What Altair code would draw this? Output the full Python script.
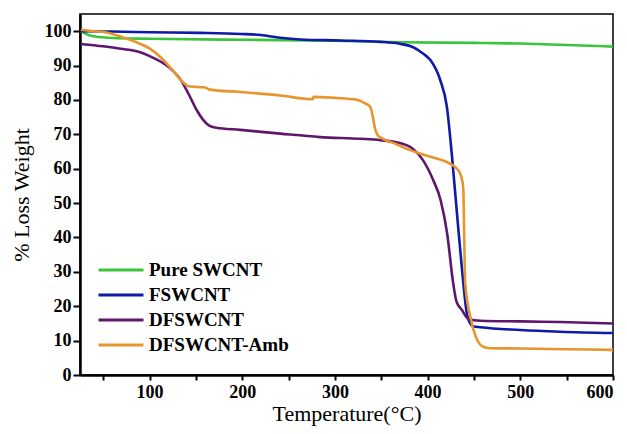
import altair as alt
import pandas as pd

series_names = ["Pure SWCNT", "FSWCNT", "DFSWCNT", "DFSWCNT-Amb"]
series_colors = ["#3cc43c", "#0f1aa8", "#5e176c", "#e8952e"]

green_T = [26, 35, 45, 60, 100, 200, 300, 370, 450, 500, 550, 600]
green_v = [100, 98.8, 98.3, 98.0, 97.8, 97.5, 97.2, 96.8, 96.6, 96.4, 96.0, 95.5]

blue_T = [26, 60, 100, 155, 198, 220, 241, 263, 306, 349, 371, 384, 395, 403, 413.6, 420.8,
          426, 432, 437, 443, 449, 457, 500, 543, 600]
blue_v = [100, 99.9, 99.7, 99.5, 99.2, 98.9, 98.1, 97.6, 97.3, 96.9, 96.3, 95.4, 93.5, 91.6, 85.8, 78,
          64.5, 46, 31, 17, 14.2, 13.9, 13.1, 12.6, 12.2]

purple_T = [26, 50, 69, 90, 103, 121, 134, 142, 151, 157, 164, 172, 198, 241, 284, 328, 349, 371,
            384, 395, 406, 414, 421, 427.6, 431, 437, 444, 457, 500, 543, 600]
purple_v = [96.3, 95.6, 94.9, 93.9, 92.4, 89.5, 85.7, 81.8, 77, 74.5, 72.6, 71.9, 71.3, 70.2, 69.2, 68.7, 68.3, 67.4,
            65.8, 62.5, 56.7, 50.9, 41.3, 26.7, 21.5, 18.9, 16.3, 15.8, 15.6, 15.4, 15.0]

orange_T = [26, 40, 52, 70, 90, 100, 112, 125, 138, 142, 150, 155, 160, 165, 198, 241, 276, 277, 300,
            323, 332, 338, 341, 343, 346, 351, 365, 381, 403, 424, 433, 437, 438.5, 439.5, 440.5, 446,
            452, 460, 467, 500, 550, 600]
orange_v = [100.4, 100, 99.7, 98.3, 96.3, 95, 92.4, 88.6, 84.7, 84, 83.8, 83.7, 83.6, 83, 82.3, 81.3, 80.2, 80.9, 80.6,
            80.1, 79.1, 78, 75, 72, 69.8, 68.8, 67.3, 65.4, 63.5, 61.5, 59.6, 57, 54, 40, 27, 17,
            11.1, 8.2, 7.8, 7.7, 7.5, 7.3]

x_ticks = [50, 100, 150, 200, 250, 300, 350, 400, 450, 500, 550, 600]
y_ticks = [0, 10, 20, 30, 40, 50, 60, 70, 80, 90, 100]

rows = []
for name, Ts, vs in zip(series_names, [green_T, blue_T, purple_T, orange_T],
                        [green_v, blue_v, purple_v, orange_v]):
    for i, (t, v) in enumerate(zip(Ts, vs)):
        rows.append({"series": name, "T": t, "w": v, "order": i})
df = pd.DataFrame(rows)

FONT = "Liberation Serif"

chart = alt.Chart(df).mark_line(strokeWidth=2.6, interpolate="monotone").encode(
    x=alt.X("T:Q", scale=alt.Scale(domain=[25, 600], nice=False, zero=False),
            axis=alt.Axis(title="Temperature(°C)", values=x_ticks,
                          labelExpr="datum.value % 100 === 0 ? datum.label : ''",
                          grid=False, tickSize=5, labelPadding=3,
                          titleY=45, titleBaseline="alphabetic")),
    y=alt.Y("w:Q", scale=alt.Scale(domain=[0, 105], nice=False),
            axis=alt.Axis(title="% Loss Weight", values=y_ticks, grid=False,
                          tickSize=7, labelPadding=2, titlePadding=11)),
    color=alt.Color("series:N", sort=series_names,
                    scale=alt.Scale(domain=series_names, range=series_colors),
                    legend=alt.Legend(title=None, orient="none", legendX=28, legendY=243,
                                      symbolType="M-2,0L2,0", symbolSize=506, symbolStrokeWidth=3,
                                      labelFont=FONT, labelFontSize=19, labelFontWeight="bold",
                                      labelColor="black", labelOffset=15, rowPadding=2, padding=0)),
    order="order:Q",
).properties(
    width=533, height=361,
    autosize=alt.AutoSizeParams(type="none"),
    padding={"left": 72, "top": 6, "right": 6, "bottom": 51},
).configure_view(
    stroke="black", strokeWidth=1.5
).configure_axis(
    labelFont=FONT, labelFontSize=18, labelFontWeight="bold", labelColor="black",
    titleFont=FONT, titleFontSize=22, titleFontWeight="normal", titleColor="black",
    domainColor="black", domainWidth=2.5, tickColor="black", tickWidth=2,
)

chart.save("out.html", embed_options={"renderer": "svg", "actions": False})
